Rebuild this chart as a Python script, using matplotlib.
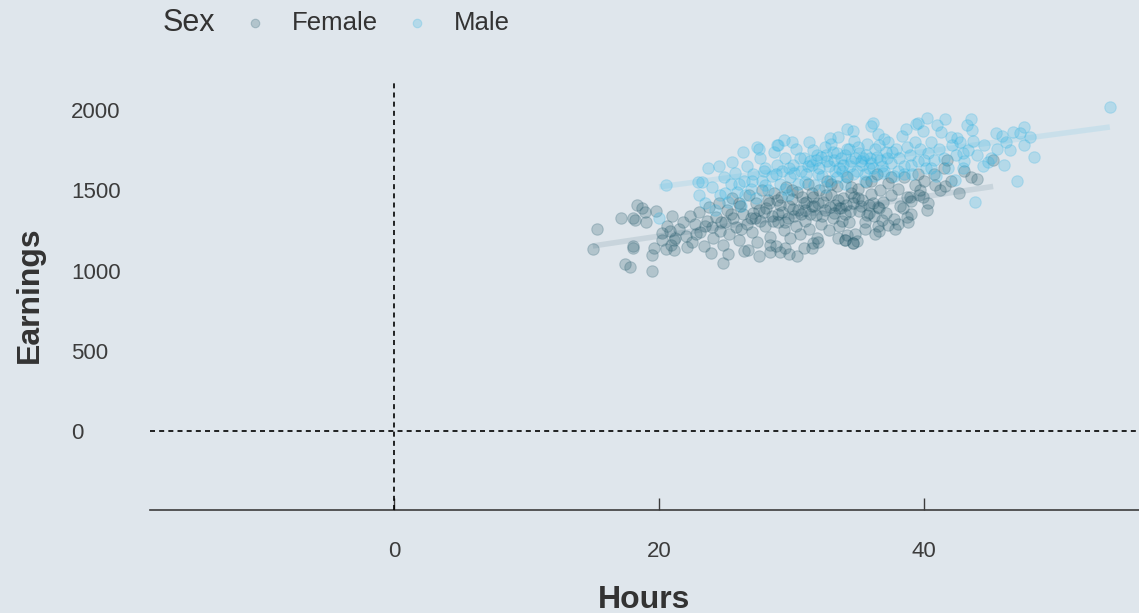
import numpy as np
import matplotlib
matplotlib.use('Agg')
import matplotlib.pyplot as plt

plt.rcParams['font.family'] = ['Liberation Sans', 'DejaVu Sans']

# Hours worked / weekly earnings
female_hours = [15.3, 15.0, 17.1, 18.0, 18.2, 18.0, 18.0, 17.4, 17.8, 18.3, 18.7, 18.9, 19.0, 19.8,
                19.5, 19.6, 19.5, 20.2, 20.2, 20.5, 21.1, 21.1,
                45.2, 43.5, 41.7, 41.6, 40.8, 40.2, 38.7, 38.4, 38.0, 37.3, 36.6, 36.8, 35.5, 34.6,
                34.0, 38.9, 39.0, 39.7, 39.9, 36.5, 35.8,
                24.8, 28.4, 28.4, 29.1, 29.5, 30.4, 30.9, 31.6, 34.2, 34.6, 34.0,
                21.5, 21.8, 22.0, 22.3, 22.5, 22.7, 23.0, 23.1, 23.4, 23.6, 23.8, 24.0, 24.1, 24.3,
                24.5, 24.6, 24.8, 25.0, 25.1, 25.3, 25.5, 25.6, 25.8, 26.0, 26.1, 26.3, 26.4, 26.6,
                26.8, 27.0, 27.1, 27.3, 27.4, 27.6, 27.8, 28.0, 28.1, 28.2, 28.4, 28.5, 28.7, 28.8,
                29.0, 29.1, 29.3, 29.4, 29.6, 29.7, 29.9, 30.0, 30.1, 30.3, 30.4, 30.6, 30.7, 30.9,
                31.0, 31.2, 31.3, 31.5, 31.6, 31.8, 31.9, 32.1, 32.2, 32.4, 32.5, 32.7, 32.8, 33.0,
                33.1, 33.3, 33.4, 33.6, 33.7, 33.9, 34.0, 34.2, 34.3, 34.5, 34.6, 34.8, 35.0, 35.1,
                35.3, 35.5, 35.6, 35.8, 36.0, 36.2, 36.4, 36.5, 36.7, 36.9, 37.1, 37.3, 37.5, 37.7,
                38.0, 38.2, 38.5, 38.7, 39.0, 39.3, 39.6, 40.0, 40.3, 40.7, 41.2, 41.5, 42.0, 42.6,
                43.0, 44.0,
                27.2, 27.9, 28.6, 29.2, 29.8, 30.2, 30.8, 31.4, 31.7, 32.3, 32.6, 32.9, 33.2, 33.5,
                33.8, 34.1, 34.4, 34.7, 35.2, 35.7, 36.1, 36.6, 30.5, 31.1, 29.5, 28.3, 26.9, 26.2,
                25.4, 24.7, 23.5, 22.8,
                25.2, 26.7, 27.5, 29.8, 31.5, 32.0, 33.5, 34.9, 36.3, 37.8, 38.8, 23.9, 22.1, 21.2,
                20.8, 20.6, 21.0, 20.9,
                30.0, 31.5, 33.0, 34.5, 36.0, 37.5, 39.5, 32.0, 33.6, 35.0, 31.0, 29.0, 27.5, 26.0,
                28.9]
female_earn = [1259, 1134, 1327, 1327, 1315, 1153, 1140, 1040, 1022, 1408, 1389, 1364, 1302, 1371,
               997, 1140, 1097, 1234, 1190, 1134, 1190, 1128,
               1688, 1583, 1688, 1526, 1533, 1377, 1333, 1389, 1290, 1283, 1246, 1315, 1259, 1171,
               1190, 1458, 1433, 1502, 1458, 1396, 1358,
               1047, 1115, 1159, 1115, 1140, 1090, 1140, 1171, 1221, 1171, 1190,
               1260, 1305, 1215, 1340, 1180, 1290, 1365, 1240, 1150, 1310, 1395, 1270, 1200, 1335,
               1420, 1245, 1160, 1300, 1380, 1225, 1450, 1330, 1270, 1190, 1405, 1350, 1120, 1290,
               1470, 1240, 1360, 1420, 1180, 1310, 1500, 1275, 1390, 1440, 1210, 1340, 1480, 1150,
               1300, 1410, 1365, 1250, 1520, 1330, 1200, 1445, 1385, 1280, 1490, 1230, 1350, 1420,
               1310, 1540, 1260, 1400, 1460, 1345, 1205, 1500, 1290, 1430, 1375, 1560, 1250, 1470,
               1330, 1410, 1525, 1280, 1390, 1450, 1350, 1580, 1300, 1480, 1420, 1230, 1510, 1370,
               1440, 1300, 1550, 1410, 1475, 1340, 1600, 1280, 1500, 1430, 1360, 1545, 1470, 1320,
               1510, 1400, 1580, 1455, 1350, 1530, 1470, 1560, 1420, 1600, 1500, 1640, 1560, 1480,
               1620, 1570,
               1330, 1365, 1310, 1455, 1400, 1340, 1460, 1355, 1405, 1340, 1470, 1395, 1360, 1440,
               1310, 1410, 1370, 1460, 1400, 1345, 1420, 1390, 1380, 1430, 1300, 1420, 1330, 1260,
               1350, 1300, 1280, 1230,
               1100, 1130, 1090, 1105, 1140, 1175, 1200, 1185, 1230, 1260, 1300, 1110, 1145, 1200,
               1245, 1280, 1340, 1160,
               1500, 1480, 1540, 1520, 1560, 1580, 1600, 1420, 1390, 1450, 1380, 1350, 1380, 1420,
               1440]

male_hours = [20.5, 20.0, 23.7, 24.5, 22.9, 23.2, 26.3, 27.4, 25.5, 28.9, 29.4, 32.9, 34.6, 36.1,
              54.0, 47.5, 47.2, 46.7, 45.9, 45.4, 46.5, 48.3, 47.0, 43.8, 46.0, 44.4, 44.8, 43.5,
              43.2, 43.6, 41.6, 40.2, 39.5, 41.0, 42.9, 42.9, 42.3, 42.0, 42.5,
              23.0, 23.5, 24.0, 24.2, 24.6, 24.9, 25.2, 25.4, 25.7, 25.9, 26.2, 26.4, 26.6, 26.9,
              27.1, 27.3, 27.6, 27.8, 28.0, 28.2, 28.5, 28.7, 28.9, 29.1, 29.3, 29.5, 29.7, 29.9,
              30.1, 30.3, 30.5, 30.7, 30.9, 31.1, 31.3, 31.5, 31.7, 31.9, 32.1, 32.3, 32.5, 32.7,
              32.9, 33.1, 33.3, 33.5, 33.7, 33.9, 34.1, 34.3, 34.5, 34.7, 34.9, 35.1, 35.3, 35.5,
              35.7, 35.9, 36.1, 36.3, 36.5, 36.7, 36.9, 37.1, 37.3, 37.5, 37.7, 37.9, 38.1, 38.3,
              38.5, 38.7, 38.9, 39.1, 39.3, 39.5, 39.7, 39.9, 40.1, 40.3, 40.5, 40.7, 40.9, 41.1,
              41.3, 41.5, 41.8, 42.1, 42.4, 42.7, 43.0, 43.3, 43.7, 44.0, 44.5, 45.0, 45.5, 46.2,
              47.5, 48.0,
              31.2, 31.8, 32.2, 32.8, 33.2, 33.6, 34.0, 34.4, 34.8, 35.2, 35.6, 36.0, 36.4, 36.8,
              37.2, 30.6, 29.8, 28.8, 27.9, 27.0, 26.0, 33.4, 34.6, 36.2, 38.0, 39.0, 40.0, 31.6,
              33.0, 35.0, 37.0, 38.6, 34.2, 36.0, 39.4, 30.0, 29.0, 27.5,
              25.0, 26.5, 28.0, 29.5, 31.0, 32.5, 34.0, 35.5, 37.0, 38.5, 40.5, 30.2, 32.0, 33.8,
              35.8, 32.6, 34.2, 36.6, 33.4, 35.4, 37.6, 31.4]
male_earn = [1533, 1327, 1639, 1651, 1551, 1551, 1738, 1769, 1676, 1782, 1813, 1826, 1869, 1919,
             2019, 1894, 1857, 1863, 1838, 1857, 1751, 1707, 1558, 1427, 1657, 1651, 1676, 1944,
             1907, 1875, 1944, 1950, 1919, 1907, 1732, 1639, 1564, 1832, 1826,
             1470, 1420, 1520, 1380, 1470, 1580, 1430, 1540, 1610, 1490, 1400, 1560, 1650, 1510,
             1600, 1450, 1700, 1560, 1640, 1500, 1590, 1740, 1660, 1540, 1620, 1700, 1470, 1580,
             1660, 1760, 1540, 1620, 1700, 1600, 1800, 1660, 1530, 1720, 1640, 1590, 1770, 1680,
             1560, 1740, 1620, 1830, 1700, 1660, 1590, 1760, 1680, 1810, 1620, 1730, 1660, 1560,
             1790, 1700, 1640, 1760, 1850, 1690, 1610, 1740, 1800, 1670, 1590, 1760, 1700, 1840,
             1650, 1770, 1720, 1600, 1800, 1680, 1760, 1870, 1640, 1730, 1800, 1690, 1590, 1760,
             1860, 1700, 1640, 1780, 1720, 1800, 1680, 1750, 1810, 1720, 1780, 1700, 1760, 1800,
             1780, 1830,
             1650, 1690, 1710, 1650, 1690, 1640, 1720, 1650, 1700, 1680, 1720, 1670, 1710, 1650,
             1700, 1700, 1640, 1600, 1620, 1560, 1540, 1580, 1600, 1590, 1620, 1660, 1690, 1750,
             1790, 1770, 1820, 1880, 1880, 1900, 1910, 1800, 1780, 1760,
             1480, 1470, 1530, 1510, 1550, 1520, 1540, 1600, 1620, 1600, 1640, 1610, 1600, 1620,
             1640, 1720, 1760, 1780, 1730, 1700, 1740, 1680]

groups = ['Female', 'Male']
colors = {'Female': '#23596a', 'Male': '#2fb3e3'}
bg = '#dfe6ec'

fig = plt.figure(figsize=(11.39, 6.13), dpi=100)
fig.patch.set_facecolor(bg)
ax = fig.add_axes([150/1139, 103/613, 989/1139, 430/613])
ax.set_facecolor(bg)

data = {'Female': (female_hours, female_earn), 'Male': (male_hours, male_earn)}
for g in groups:
    hx, ey = np.array(data[g][0]), np.array(data[g][1])
    # linear fit over the range of the group
    k, b = np.polyfit(hx, ey, 1)
    xs = np.array([hx.min(), hx.max()])
    ax.plot(xs, k*xs + b, color=colors[g], alpha=0.12, lw=4, solid_capstyle='butt', zorder=1)
    ax.scatter(hx, ey, s=68, color=colors[g], alpha=0.24, linewidths=0.8, label=g, zorder=2)

ax.axvline(0, color='black', ls=(0, (3, 2.5)), lw=1.2, zorder=3)
ax.axhline(0, color='black', ls=(0, (3, 2.5)), lw=1.2, zorder=3)

ax.set_xlim(-18.4, 56.2)
ax.set_ylim(-492, 2187)
ax.set_xticks([0, 20, 40])
ax.set_yticks([0, 500, 1000, 1500, 2000])

for s in ['top', 'right', 'left']:
    ax.spines[s].set_visible(False)
ax.spines['bottom'].set_color('#3c3c3c')
ax.spines['bottom'].set_linewidth(1.2)

ax.tick_params(axis='x', direction='in', length=9, width=1, color='#3c3c3c',
               labelsize=16, labelcolor='#3c3c3c', pad=22)
ax.tick_params(axis='y', length=0, labelsize=16, labelcolor='#3c3c3c', pad=57)
for lab in ax.get_yticklabels():
    lab.set_horizontalalignment('left')

ax.set_xlabel('Hours', fontsize=23, fontweight='bold', color='#333333', labelpad=17)
ax.set_ylabel('Earnings', fontsize=23, fontweight='bold', color='#333333')
ax.yaxis.set_label_coords(-0.106, 0.5)

# legend on one row with the title to the left
fig.text(163/1139, 1 - 23/613, 'Sex', fontsize=22, color='#333333', va='center', ha='left')
leg = ax.legend(loc='center left', bbox_to_anchor=(242/1139, 1 - 23/613), bbox_transform=fig.transFigure,
                ncol=2, frameon=False, fontsize=18.5, handlelength=1.0, handletextpad=0.94,
                columnspacing=1.0, borderpad=0, borderaxespad=0, scatterpoints=1, markerscale=0.75)
for t in leg.get_texts():
    t.set_color('#333333')

plt.savefig('out.png', dpi=100, facecolor=bg)
